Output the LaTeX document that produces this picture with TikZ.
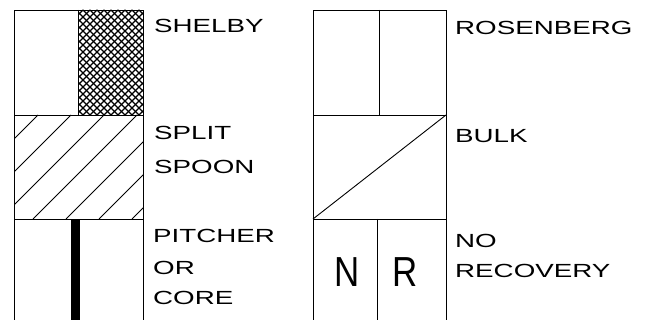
\documentclass[tikz,border=0pt]{standalone}
\usepackage{fontspec}
\setmainfont{Liberation Sans}
\usepackage{graphicx}
\begin{document}
\begin{tikzpicture}[x=1pt,y=-1pt,
  lbl/.style={anchor=base west,inner sep=0pt,font=\fontsize{19}{20}\selectfont},
  big/.style={anchor=base,inner sep=0pt,font=\fontsize{42}{44}\selectfont},
  frame/.style={line width=0.9pt,draw=black},
  hatch/.style={line width=0.8pt},
  xhatch/.style={line width=1.3pt}]
\useasboundingbox (0,0) rectangle (651,320);
% ---------- left column ----------
\coordinate (L1) at (14,10);
\coordinate (L2) at (143,10);
\coordinate (L3) at (14,320);
\coordinate (L4) at (143,320);
% Shelby crosshatch
\begin{scope}
  \clip (78,10) rectangle (143,115);
  \foreach \a in {-120,-113,...,160} {
    \draw[xhatch] (\a,115) -- (\a+105,10);
    \draw[xhatch] (\a,10) -- (\a+105,115);
  }
\end{scope}
% split spoon hatch
\begin{scope}
  \clip (14,115) rectangle (143,219);
  \foreach \a in {-99,-66,...,140} {
    \draw[hatch] (\a,219) -- (\a+104,115);
  }
\end{scope}
% pitcher bar
\fill (71,219) rectangle (80,320);
% frame lines
\draw[frame] (L3) -- (L1) -- (L2) -- (L4);
\draw[frame] (14,115) -- (143,115);
\draw[frame] (14,219) -- (143,219);
\draw[frame] (78,10) -- (78,115);
% ---------- right column ----------
\coordinate (R1) at (313,10);
\coordinate (R2) at (446,10);
\coordinate (R3) at (313,320);
\coordinate (R4) at (446,320);
\draw[frame] (R3) -- (R1) -- (R2) -- (R4);
\draw[frame] (313,115) -- (446,115);
\draw[frame] (313,219) -- (446,219);
\draw[frame] (379,10) -- (379,115);
\draw[frame] (313,219) -- (446,115);
\draw[frame] (377,219) -- (377,320);
\node[big] (n) at (347,287) {\scalebox{0.83}[1]{N}};
\node[big] (r) at (405,287) {\scalebox{0.83}[1]{R}};
% ---------- labels ----------
\node[lbl] (shelby) at (154,33) {\scalebox{1.46}[1]{SHELBY}};
\node[lbl] (split) at (154,140) {\scalebox{1.46}[1]{SPLIT}};
\node[lbl] (spoon) at (154,174) {\scalebox{1.46}[1]{SPOON}};
\node[lbl] (pitcher) at (153,243) {\scalebox{1.46}[1]{PITCHER}};
\node[lbl] (or) at (153,275) {\scalebox{1.46}[1]{OR}};
\node[lbl] (core) at (153,305) {\scalebox{1.46}[1]{CORE}};
\node[lbl] (rosen) at (455,35) {\scalebox{1.46}[1]{ROSENBERG}};
\node[lbl] (bulk) at (455,143) {\scalebox{1.46}[1]{BULK}};
\node[lbl] (no) at (455,248) {\scalebox{1.46}[1]{NO}};
\node[lbl] (recov) at (455,278) {\scalebox{1.46}[1]{RECOVERY}};
\end{tikzpicture}
\end{document}
